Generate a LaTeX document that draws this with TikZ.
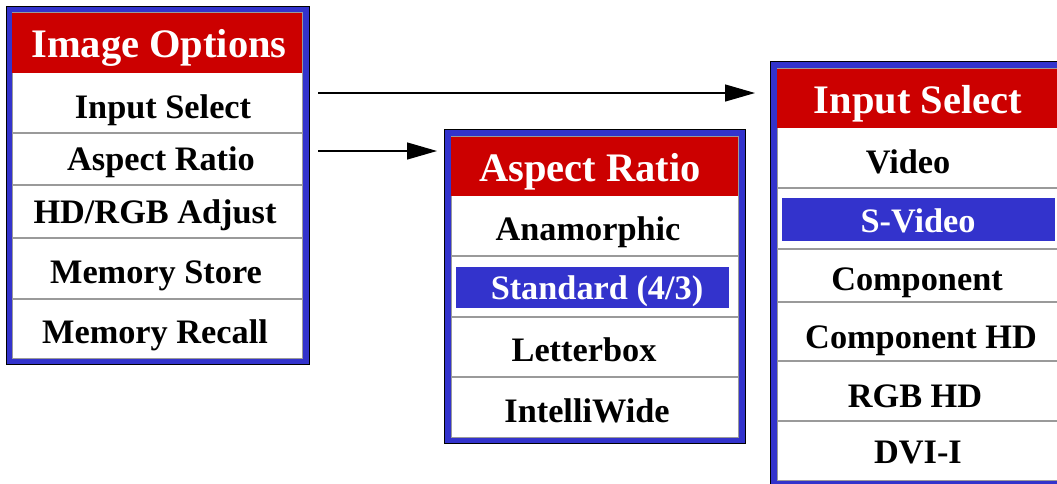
\documentclass[tikz,border=0pt]{standalone}
\usepackage{fontspec}
\setmainfont{Liberation Serif}
\usetikzlibrary{arrows.meta}
\definecolor{menured}{HTML}{CC0000}
\definecolor{menublue}{HTML}{3333CC}
\definecolor{rulegray}{HTML}{9A9A9A}
\tikzset{
  frame/.style={fill=menublue, draw=black, line width=1pt},
  panel/.style={fill=white, draw=rulegray, line width=1pt},
  header/.style={fill=menured},
  sep/.style={draw=rulegray, line width=1.3pt},
  hilite/.style={fill=menublue},
  title/.style={anchor=base, text=white, inner sep=0pt, font=\fontsize{40.5}{45}\selectfont\bfseries},
  item/.style={anchor=base, inner sep=0pt, font=\fontsize{34.3}{40}\selectfont\bfseries},
  pick/.style={item, text=white},
  link/.style={-{Triangle[length=30pt,width=17pt]}, line width=1.3pt}
}
\begin{document}
\begin{tikzpicture}[x=1pt,y=-1pt]
        \useasboundingbox (0,0) rectangle (1057,483);
        \clip (0,0) rectangle (1057,483);
        % Image Options menu
        \filldraw[frame] (6,6) rectangle (309,364);
        \filldraw[panel] (12,12) rectangle (302,358);
        \fill[header] (12,13) rectangle (302,73);
        \foreach \y in {133,185,238,299} \draw[sep] (12,\y) -- (302,\y);
        \node[title] (opts) at (159,57) {Image Options};
        \node[item] (optin) at (163,118) {Input Select};
        \node[item] (optar) at (161,170) {Aspect Ratio};
        \node[item] (opthd) at (155,223) {HD/RGB Adjust};
        \node[item] (optms) at (156,283) {Memory Store};
        \node[item] (optmr) at (155,343) {Memory Recall};
        % Aspect Ratio menu
        \filldraw[frame] (444,129) rectangle (745,443);
        \filldraw[panel] (451,136) rectangle (738,437);
        \fill[header] (451,137) rectangle (738,196);
        \foreach \y in {256,317,377} \draw[sep] (451,\y) -- (738,\y);
        \fill[hilite] (456,267) rectangle (729,308);
        \node[title] (ar) at (590,181) {Aspect Ratio};
        \node[item] (aranam) at (588,240) {Anamorphic};
        \node[pick] (arstd) at (597,299) {Standard (4/3)};
        \node[item] (arlbox) at (584,361) {Letterbox};
        \node[item] (arwide) at (587,422) {IntelliWide};
        % Input Select menu
        \filldraw[frame] (770,61) rectangle (1080,490);
        \filldraw[panel] (777,68) rectangle (1073,480);
        \fill[header] (777,69) rectangle (1073,128);
        \foreach \y in {188,249,302,361,421} \draw[sep] (777,\y) -- (1073,\y);
        \fill[hilite] (782,198) rectangle (1055,241);
        \node[title] (ins) at (918,113) {Input Select};
        \node[item] (invid) at (908,173) {Video};
        \node[pick] (insvid) at (918,232) {S-Video};
        \node[item] (incomp) at (917,290) {Component};
        \node[item] (inchd) at (921,348) {Component HD};
        \node[item] (inrgb) at (915,407) {RGB HD};
        \node[item] (indvi) at (918,463) {DVI-I};
        % arrows
        \coordinate (inout) at (318,93);
        \coordinate (inend) at (755,93);
        \coordinate (arout) at (318,151);
        \coordinate (arend) at (437,151);
        \draw[link] (inout) -- (inend);
        \draw[link] (arout) -- (arend);
\end{tikzpicture}
\end{document}
